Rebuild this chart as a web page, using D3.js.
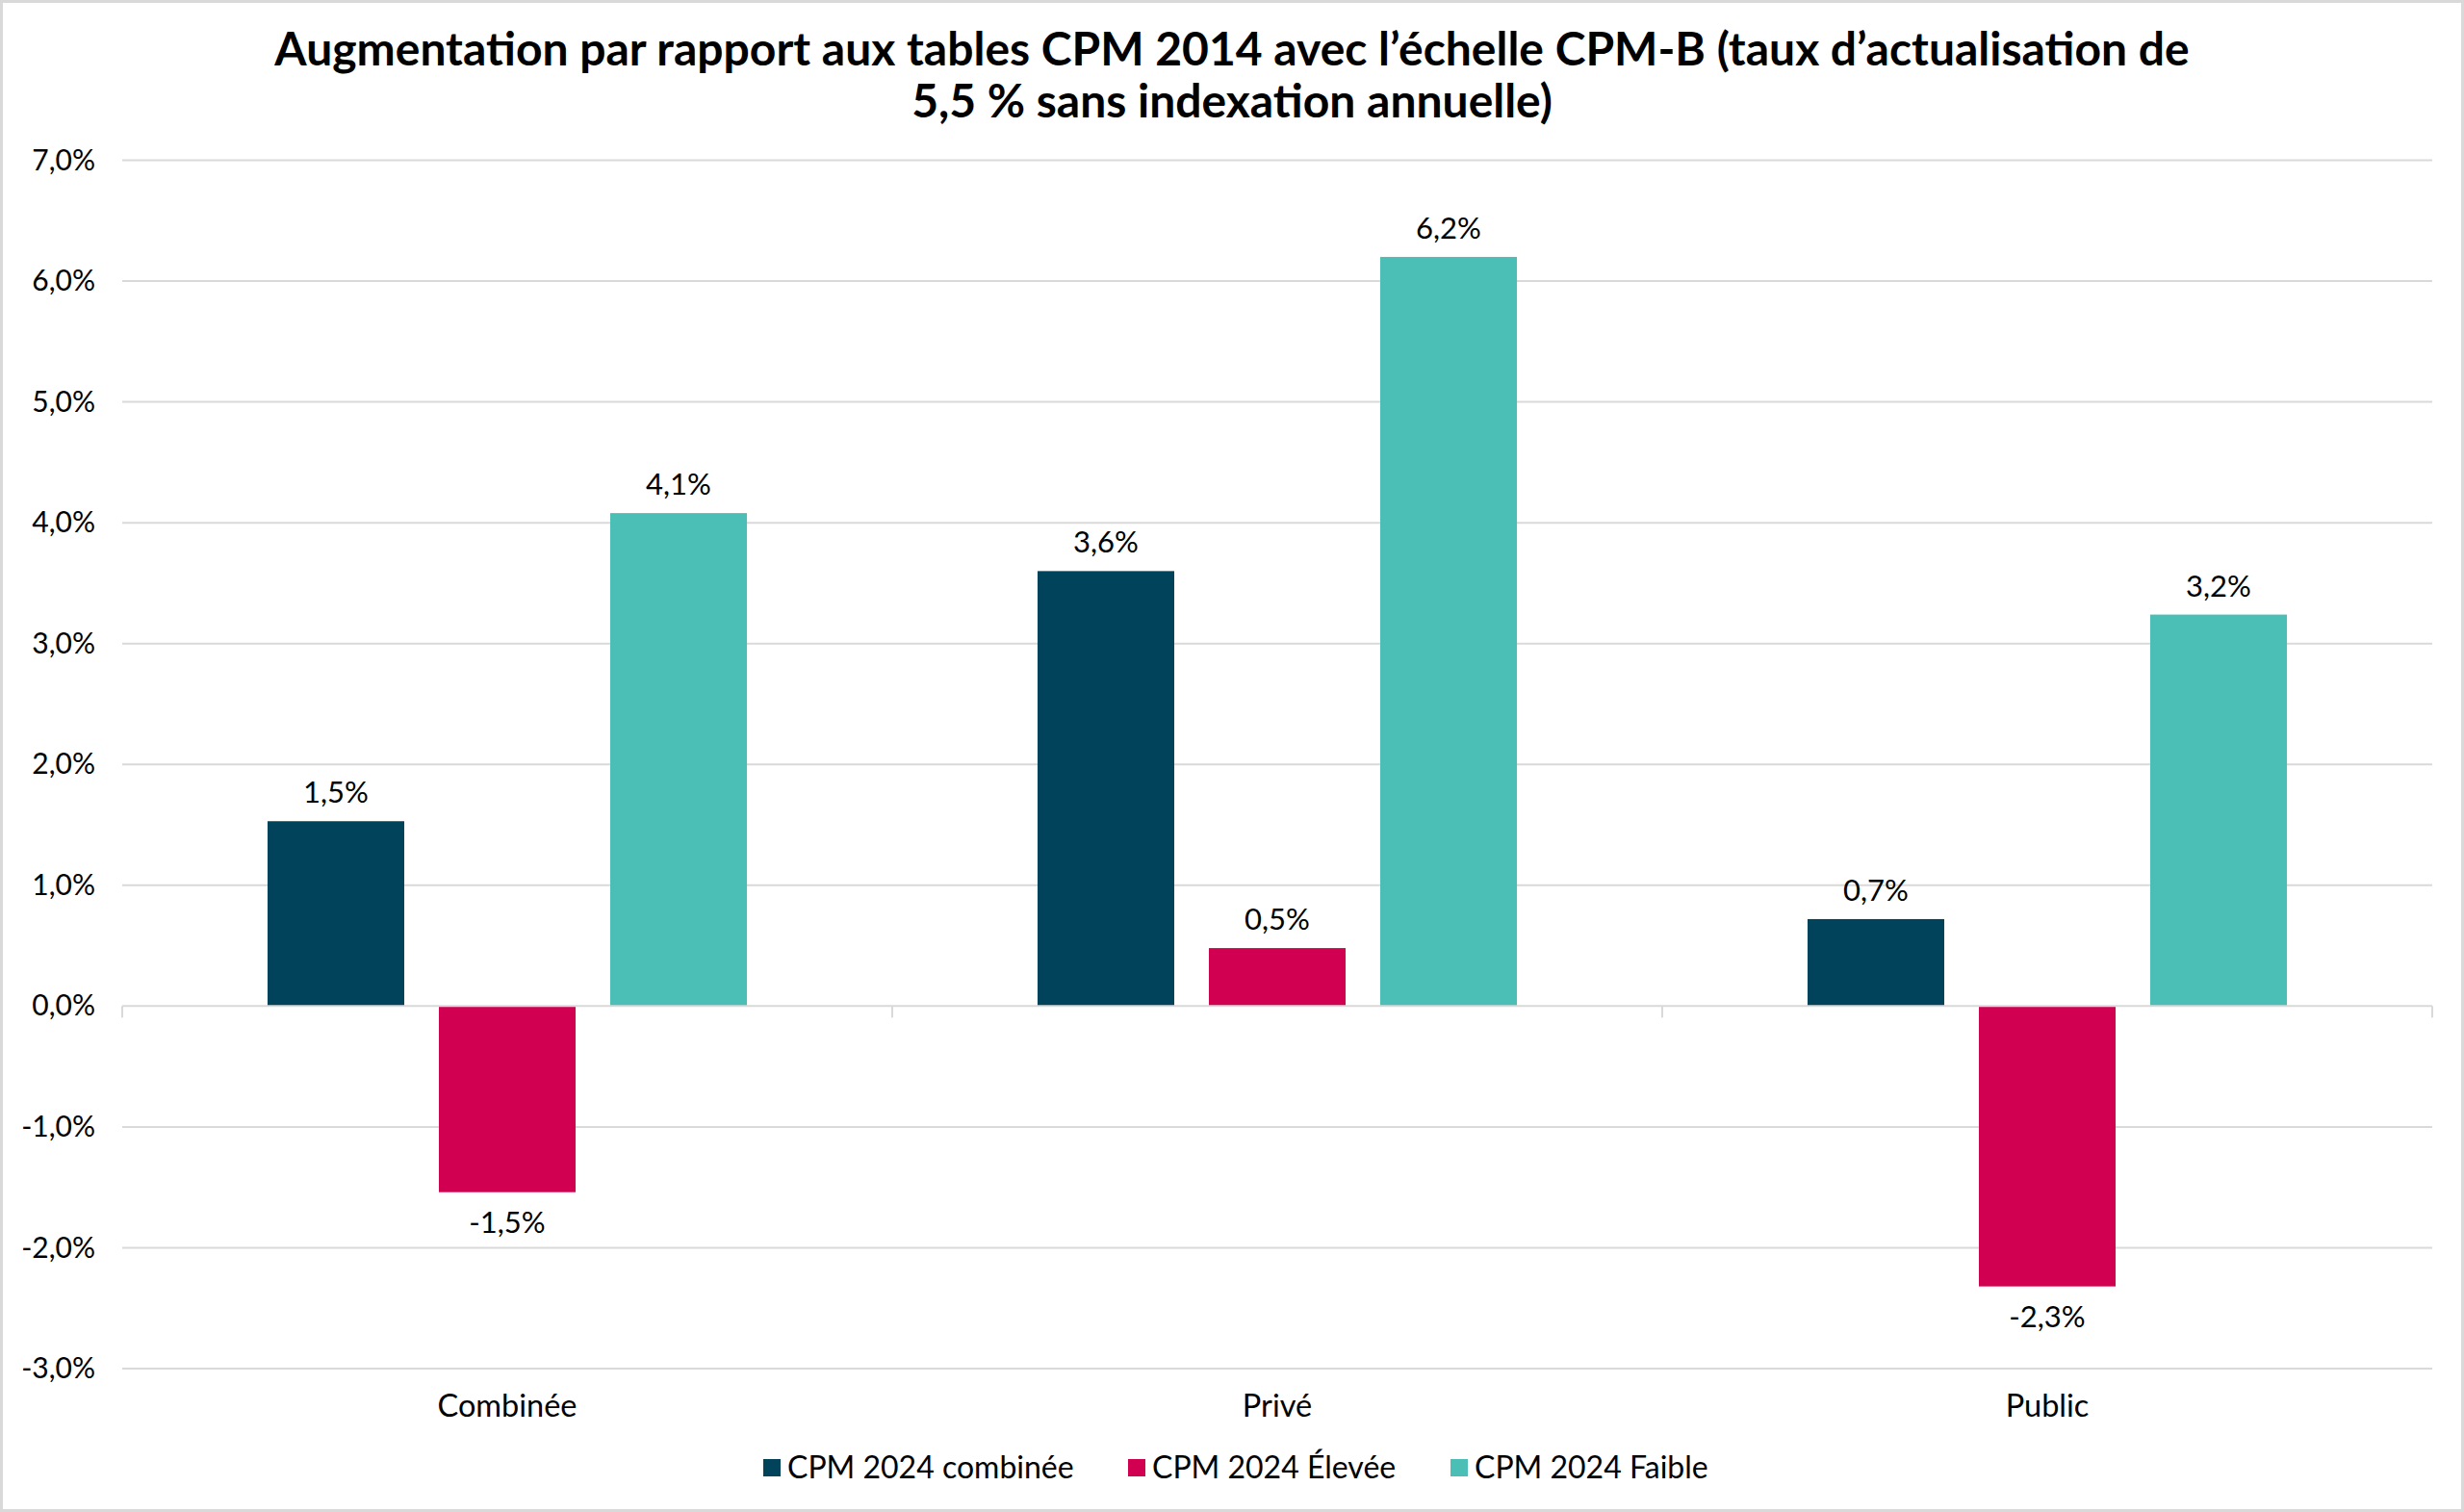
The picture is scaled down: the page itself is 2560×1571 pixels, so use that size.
<!DOCTYPE html>
<html>
<head>
<meta charset="utf-8">
<script src="https://cdn.jsdelivr.net/npm/d3@7/dist/d3.min.js"></script>
<style>
  html, body { margin: 0; padding: 0; background: #fff; }
  svg { display: block; }
  text { font-family: Lato, "Open Sans", sans-serif; fill: #000; }
</style>
</head>
<body>
<svg id="chart" width="2560" height="1571"></svg>
<script>
const titleLines = [
  "Augmentation par rapport aux tables CPM 2014 avec l’échelle CPM-B (taux d’actualisation de",
  "5,5 % sans indexation annuelle)"
];
const categories = ["Combinée", "Privé", "Public"];
const seriesNames = ["CPM 2024 combinée", "CPM 2024 Élevée", "CPM 2024 Faible"];
const seriesColors = ["#00435b", "#d10051", "#4bbfb5"];
const combineeValues = [1.53, 3.60, 0.72];
const eleveeValues = [-1.54, 0.48, -2.32];
const faibleValues = [4.08, 6.20, 3.24];
const yTicks = [-3, -2, -1, 0, 1, 2, 3, 4, 5, 6, 7];

const seriesValues = [combineeValues, eleveeValues, faibleValues];
const W = 2560, H = 1571;
const margin = { left: 127, right: 33, top: 166.5, bottom: 149 };
const svg = d3.select("#chart");

// border
svg.append("rect").attr("x", 1.5).attr("y", 1.5).attr("width", W - 3).attr("height", H - 3)
  .attr("fill", "#fff").attr("stroke", "#d9d9d9").attr("stroke-width", 3);

const x0 = d3.scaleBand().domain(categories).range([margin.left, W - margin.right]).padding(0);
const x1 = d3.scaleBand().domain(seriesNames).range([0, x0.bandwidth()])
  .paddingInner(0.2022).paddingOuter(0.848);
const y = d3.scaleLinear().domain([-3, 7]).range([H - margin.bottom, margin.top]);

const fmt = v => d3.format(".1f")(v).replace(".", ",").replace("−", "-") + "%";

// gridlines
svg.append("g").selectAll("line").data(yTicks.filter(t => t !== 0)).join("line")
  .attr("x1", margin.left).attr("x2", W - margin.right)
  .attr("y1", d => y(d)).attr("y2", d => y(d))
  .attr("stroke", "#d9d9d9").attr("stroke-width", 2);

// y axis labels
const yAxis = d3.axisLeft(y).tickValues(yTicks).tickSize(0).tickPadding(28).tickFormat(fmt);
const gy = svg.append("g").attr("transform", `translate(${margin.left},0)`).call(yAxis);
gy.select(".domain").remove();
gy.selectAll("text").style("font-size", "30px").style("font-family", "Lato, sans-serif").attr("fill", "#000");

// bars
const groups = svg.append("g").selectAll("g").data(categories).join("g")
  .attr("transform", d => `translate(${x0(d)},0)`);
groups.selectAll("rect").data((c, ci) => seriesNames.map((s, si) => ({ s, si, v: seriesValues[si][ci] })))
  .join("rect")
  .attr("x", d => x1(d.s)).attr("width", x1.bandwidth())
  .attr("y", d => y(Math.max(0, d.v)))
  .attr("height", d => Math.abs(y(d.v) - y(0)))
  .attr("fill", d => seriesColors[d.si]);

// data labels
groups.selectAll("text.lbl").data((c, ci) => seriesNames.map((s, si) => ({ s, si, v: seriesValues[si][ci] })))
  .join("text").attr("class", "lbl")
  .attr("x", d => x1(d.s) + x1.bandwidth() / 2)
  .attr("y", d => d.v >= 0 ? y(d.v) - 19 : y(d.v) + 42)
  .attr("text-anchor", "middle")
  .style("font-size", "31px")
  .text(d => fmt(d.v));

// zero axis with category ticks
const gx = svg.append("g").attr("transform", `translate(0,${y(0)})`);
gx.append("line").attr("x1", margin.left).attr("x2", W - margin.right)
  .attr("y1", 0).attr("y2", 0).attr("stroke", "#d9d9d9").attr("stroke-width", 2);
const boundaries = categories.map(c => x0(c)).concat([x0(categories[categories.length - 1]) + x0.bandwidth()]);
gx.selectAll("line.tk").data(boundaries).join("line").attr("class", "tk")
  .attr("x1", d => d).attr("x2", d => d).attr("y1", 0).attr("y2", 12)
  .attr("stroke", "#d9d9d9").attr("stroke-width", 2);

// category labels
svg.append("g").selectAll("text").data(categories).join("text")
  .attr("x", d => x0(d) + x0.bandwidth() / 2)
  .attr("y", 1472)
  .attr("text-anchor", "middle")
  .style("font-size", "32.5px")
  .text(d => d);

// title
svg.append("g").selectAll("text").data(titleLines).join("text")
  .attr("x", W / 2).attr("y", (d, i) => 68 + i * 54)
  .attr("text-anchor", "middle")
  .style("font-size", "48px").style("font-weight", "700")
  .text(d => d);

// legend
const legendX = [793, 1172, 1507];
const lg = svg.append("g").selectAll("g").data(seriesNames).join("g")
  .attr("transform", (d, i) => `translate(${legendX[i]},1525)`);
lg.append("rect").attr("x", 0).attr("y", -9).attr("width", 18).attr("height", 18)
  .attr("fill", (d, i) => seriesColors[i]);
lg.append("text").attr("x", 25).attr("y", 11).style("font-size", "32px").text(d => d);
</script>
</body>
</html>
